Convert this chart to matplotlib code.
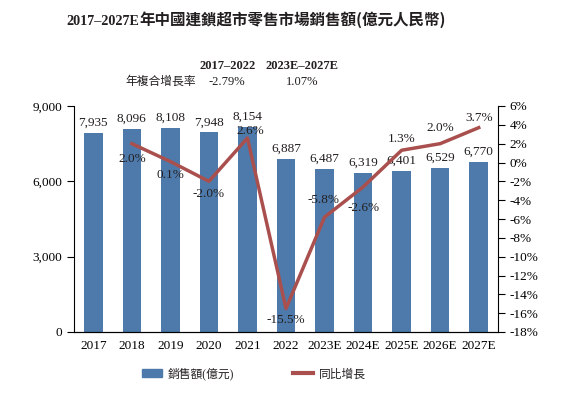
import matplotlib
matplotlib.use("agg")
import matplotlib.pyplot as plt
import numpy as np

years = ['2017', '2018', '2019', '2020', '2021', '2022',
         '2023E', '2024E', '2025E', '2026E', '2027E']
sales = [7935, 8096, 8108, 7948, 8154, 6887, 6487, 6319, 6401, 6529, 6770]
growth = [None, 2.0, 0.1, -2.0, 2.6, -15.5, -5.8, -2.6, 1.3, 2.0, 3.7]
# label offsets (points) for growth labels
growth_off = [None, (0, -11), (0, -10), (0, -9), (2, 5), (0, -8),
              (-1, 12), (0, -15), (0, 8), (0, 11), (0, 7)]

bar_color = '#4E7AAB'
line_color = '#A9504E'
fams = ['Liberation Serif', 'Noto Sans CJK TC']
plt.rcParams['font.family'] = fams
plt.rcParams['text.color'] = '#231f20'

fig = plt.figure(figsize=(5.77, 3.99), dpi=100)
ax = fig.add_axes([74/577, 1-332/399, (498-74)/577, (332-106)/399])
x = np.arange(len(years))
ax.bar(x, sales, width=0.48, color=bar_color, zorder=2)
for xi, v in zip(x, sales):
    ax.annotate(f'{v:,}', (xi, v), xytext=(0, 3), textcoords='offset points',
                ha='center', va='bottom', fontsize=9.5)
ax.set_xlim(-0.5, 10.5)
ax.set_ylim(0, 9000)
ax.set_yticks([0, 3000, 6000, 9000])
ax.set_yticklabels(['0', '3,000', '6,000', '9,000'])
ax.set_xticks(x)
ax.set_xticklabels(years)
ax.tick_params(axis='x', length=0, labelsize=9.5, pad=6)
ax.tick_params(axis='y', labelsize=9.5, direction='out', length=5)
ax.spines['top'].set_visible(False)
ax.spines['right'].set_visible(False)

ax2 = ax.twinx()
gx = [xi for xi, g in zip(x, growth) if g is not None]
gy = [g for g in growth if g is not None]
ax2.plot(gx, gy, color=line_color, linewidth=2.5, zorder=3)
for xi, g, off in zip(x, growth, growth_off):
    if g is None:
        continue
    ax2.annotate(f'{g:.1f}%', (xi, g), xytext=off, textcoords='offset points',
                 ha='center', va='center', fontsize=9.5)
ax2.set_ylim(-18, 6)
ax2.set_yticks(np.arange(-18, 7, 2))
ax2.set_yticklabels([f'{t}%' for t in range(-18, 7, 2)])
ax2.tick_params(axis='y', labelsize=9.5, direction='out', length=5)
ax2.spines['top'].set_visible(False)
ax2.spines['left'].set_visible(False)
ax2.set_xlim(-0.5, 10.5)

# title: serif digits part + CJK part, sharing a baseline
fig.text(139/577, 1-25/399, '2017–2027E', ha='right', va='baseline',
         fontsize=10.2, fontweight='bold', family=fams)
fig.text(139/577, 1-25/399, '年中國連鎖超市零售市場銷售額(億元人民幣)',
         ha='left', va='baseline', fontsize=11.2, fontweight='bold',
         family=['Noto Sans CJK TC'])
fig.text(228/577, 1-66/399, '2017–2022', ha='center', va='center',
         fontsize=9, fontweight='bold')
fig.text(302/577, 1-66/399, '2023E–2027E', ha='center', va='center',
         fontsize=9, fontweight='bold')
fig.text(161/577, 1-82/399, '年複合增長率', ha='center', va='center', fontsize=8.5)
fig.text(227/577, 1-82/399, '-2.79%', ha='center', va='center', fontsize=9)
fig.text(302/577, 1-82/399, '1.07%', ha='center', va='center', fontsize=9)

h1 = plt.Rectangle((0, 0), 1, 1, color=bar_color)
h2 = plt.Line2D([], [], color=line_color, linewidth=3)
fig.legend([h1, h2], ['銷售額(億元)', '同比增長'], loc='center',
           bbox_to_anchor=(254/577, 1-374/399), ncol=2, frameon=False,
           fontsize=8.5, columnspacing=5, handlelength=1.7, handletextpad=0.5)

fig.savefig('out.png', dpi=100)
plt.close()
